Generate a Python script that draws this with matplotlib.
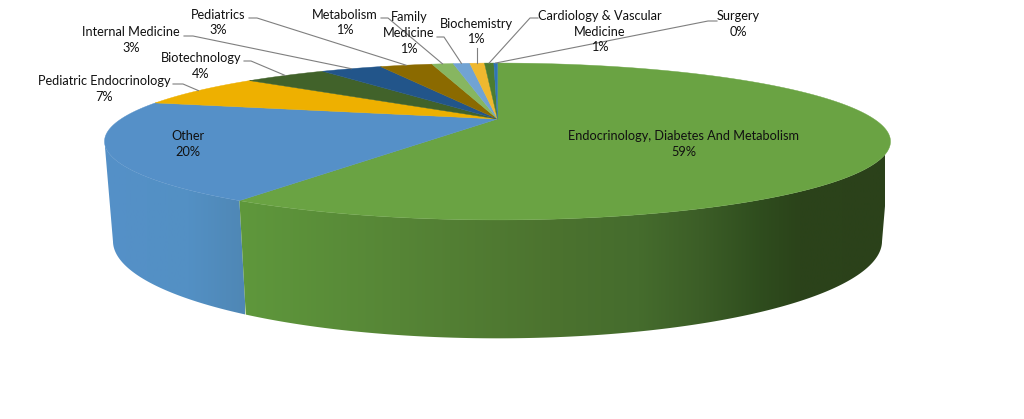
import numpy as np
import matplotlib
matplotlib.use("Agg")
import matplotlib.pyplot as plt
from matplotlib.patches import Polygon
from matplotlib.colors import LinearSegmentedColormap

plt.rcParams['font.family'] = ['Lato', 'DejaVu Sans']

# ---- data (clockwise from 12 o'clock) ----
categories = ["Endocrinology, Diabetes And Metabolism", "Other", "Pediatric Endocrinology",
              "Biotechnology", "Internal Medicine", "Pediatrics", "Metabolism",
              "Family\nMedicine", "Biochemistry", "Cardiology & Vascular\nMedicine", "Surgery"]
shares = [58.7, 20.2, 7.0, 4.45, 3.3, 2.85, 1.16, 0.91, 0.8, 0.51, 0.2]
top_colors = ["#6aa343", "#5590c8", "#eeb000", "#41622a", "#22558a", "#8b6a00",
              "#87b660", "#71a3d3", "#efb82f", "#4c7c30", "#2f75b5"]
# label centre (x, y of block centre) in figure pixels
label_xy = [(684, 144), (188, 144), (104, 89), (201, 66), (131, 40), (218.5, 22.5), (345, 22.5),
            (409, 33), (476, 31.5), (600, 31.5), (738, 24)]
# leader elbow: (text-side start x, elbow x, y); None for labels placed on the slice
leaders = [None, None, (173, 183, 84), (244, 251, 61), (184, 193, 36), (249, 257, 18), (381, 388, 18),
           (437, 444, 37), None, (538, 530, 18), (717, 708, 21)]

# ---- projective model of the tilted disc ----
CX = 497.5
TOP = dict(A=376.5, B=119.0, D=72.0, p=0.2866)
BOT = dict(A=368.8, B=213.5, D=89.5, p=0.283)


def rim(theta_deg, m):
    t = np.radians(theta_deg)
    u, v = np.sin(t), np.cos(t)
    w = 1 + m['p'] * v
    return CX + m['A'] * u / w, m['B'] - m['D'] * v / w


def arc(a, b, m, n=200):
    x, y = rim(np.linspace(a, b, n), m)
    return np.column_stack([x, y])


fig = plt.figure(figsize=(10.24, 4.19), dpi=100)
ax = fig.add_axes([0, 0, 1, 1])

edges = np.concatenate([[0], np.cumsum(shares)]) / np.sum(shares) * 360
tip = 90 + np.degrees(np.arcsin(TOP['p']))  # silhouette tangent angle


def side(a, b, stops, x0, x1, z):
    poly = np.vstack([arc(a, b, TOP), arc(b, a, BOT)])
    patch = Polygon(poly, closed=True, fc='none', ec='none', transform=ax.transData)
    ax.add_patch(patch)
    cmap = LinearSegmentedColormap.from_list('s', stops)
    im = ax.imshow(np.linspace(0, 1, 256)[None, :], cmap=cmap, extent=(x0, x1, 419, 0),
                   aspect='auto', zorder=z, interpolation='bilinear')
    im.set_clip_path(patch)


# sides: front of slice 0 and the front-left of slice 1
side(edges[1], 360 - tip, [(0, "#4f87b5"), (0.4, "#5390c4"), (1, "#5590c8")], 245, 105, 1)
side(tip, edges[1], [(0, "#2b411a"), (0.131, "#2b431a"), (0.193, "#2f4d1e"), (0.286, "#3c5e27"),
                     (0.379, "#456c2d"), (0.518, "#4c732f"), (0.75, "#568536"), (1, "#5f983c")],
     885, 238, 1.1)

# top face
for a, b, c in zip(edges[:-1], edges[1:], top_colors):
    pts = np.vstack([[CX, TOP['B']], arc(a, b, TOP, n=max(8, int((b - a) * 4)))])
    ax.add_patch(Polygon(pts, closed=True, fc=c, ec=c, lw=0.3, zorder=3))

# labels and leaders
pct = [f"{s:.0f}%" for s in shares]
for name, val, (lx, ly), lead, a, b in zip(categories, pct, label_xy, leaders, edges[:-1], edges[1:]):
    ax.text(lx, ly, f"{name}\n{val}", ha='center', va='center', fontsize=9.2, color='#111111',
            linespacing=1.36, zorder=6)
    if lead is not None:
        ex, ey = rim((a + b) / 2, TOP)
        ax.plot([lead[0], lead[1], ex], [lead[2], lead[2], ey], color='#7f7f7f', lw=0.8, zorder=5)
# Biochemistry leader is a plain vertical stub
i = categories.index("Biochemistry")
ex, ey = rim((edges[i] + edges[i + 1]) / 2, TOP)
ax.plot([ex, ex], [48, ey], color='#7f7f7f', lw=0.8, zorder=5)

ax.set_xlim(0, 1024)
ax.set_ylim(419, 0)
ax.axis('off')
fig.savefig("out.png", dpi=100, facecolor='white')
